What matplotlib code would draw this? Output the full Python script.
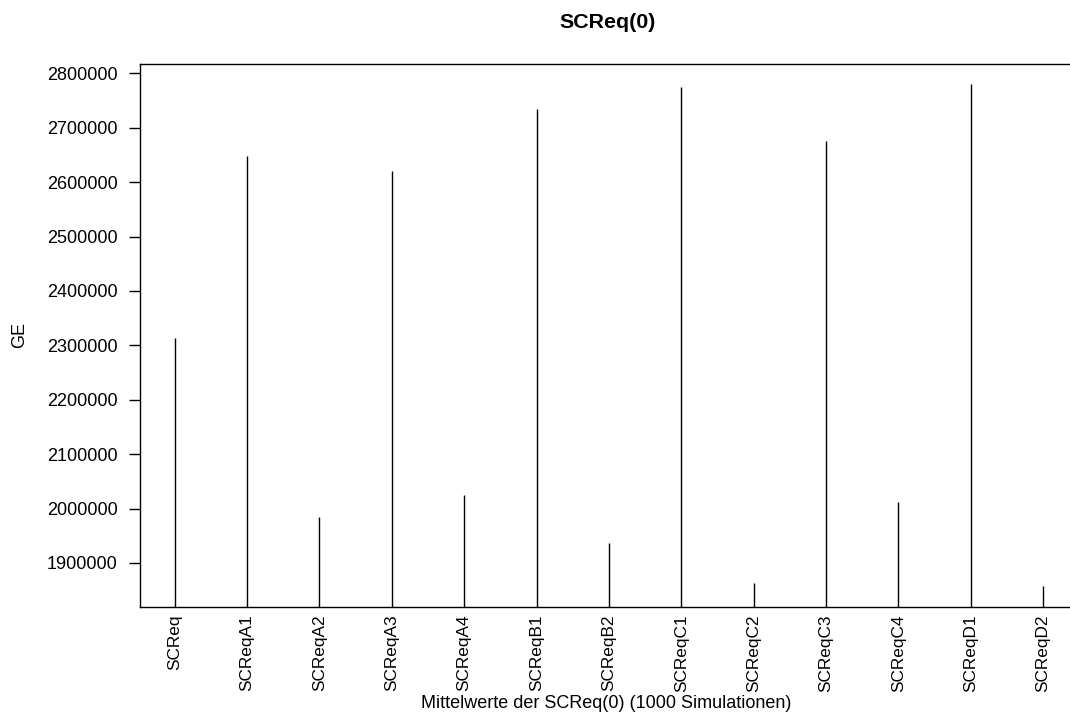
import numpy as np
import matplotlib.pyplot as plt

plt.rcParams['font.family'] = ['Liberation Sans', 'DejaVu Sans']

names = ['SCReq', 'SCReqA1', 'SCReqA2', 'SCReqA3', 'SCReqA4', 'SCReqB1', 'SCReqB2',
         'SCReqC1', 'SCReqC2', 'SCReqC3', 'SCReqC4', 'SCReqD1', 'SCReqD2']
means = [2313400, 2648000, 1983800, 2621000, 2024300, 2734400, 1937100,
         2775400, 1863600, 2676100, 2011400, 2780300, 1857000]
yticks = [1900000, 2000000, 2100000, 2200000, 2300000, 2400000, 2500000,
          2600000, 2700000, 2800000]

fig = plt.figure(figsize=(10.7, 7.2), dpi=100)
ax = fig.add_axes([0.1308, 0.1565, 0.8692 + 0.01, 0.911 - 0.1565])

x = np.arange(len(names))
ax.vlines(x, 0, means, color='black', linewidth=1.0)

ax.set_xlim(-0.48, 12.52)
ax.set_ylim(1818400, 2817100)

ax.set_yticks(yticks)
ax.set_yticklabels([str(v) for v in yticks], fontsize=13)
ax.set_xticks(x)
ax.set_xticklabels(names, rotation=90, fontsize=12.4)
ax.tick_params(axis='y', length=8, width=1.0, pad=8)
ax.tick_params(axis='x', length=0, pad=5)

for side in ['left', 'bottom', 'top', 'right']:
    ax.spines[side].set_linewidth(1.0)

fig.text(608 / 1070, 1 - 22 / 720, 'SCReq(0)', ha='center', va='center',
         fontsize=15.4, fontweight='bold')
fig.text(606 / 1070, 1 - 704 / 720, 'Mittelwerte der SCReq(0) (1000 Simulationen)',
         ha='center', va='center', fontsize=13)
fig.text(20 / 1070, 1 - 335 / 720, 'GE', ha='center', va='center',
         rotation=90, fontsize=13)

fig.savefig('out.png', dpi=100)
